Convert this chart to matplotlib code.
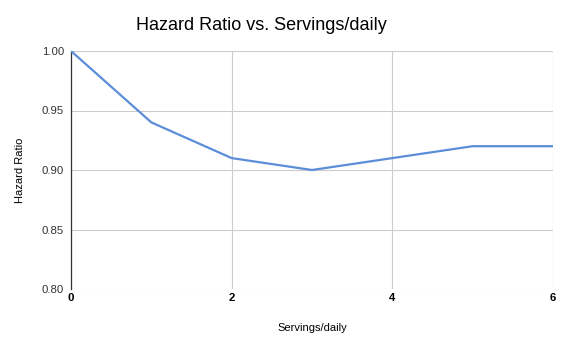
import matplotlib
matplotlib.use("Agg")
import matplotlib.pyplot as plt

servings = [0, 1, 2, 3, 4, 5, 6]
hazard_ratio = [1.00, 0.94, 0.91, 0.90, 0.91, 0.92, 0.92]
x_ticks = [0, 2, 4, 6]
y_ticks = [0.80, 0.85, 0.90, 0.95, 1.00]

plt.rcParams['font.family'] = ['Liberation Sans', 'DejaVu Sans']

fig = plt.figure(figsize=(5.70, 3.52), dpi=100)
ax = fig.add_axes([71/570, 1-289/352, (553-71)/570, (289-51)/352])

ax.plot(servings, hazard_ratio, color='#5b8dd9', linewidth=1.6, zorder=3)

ax.set_xlim(0, 6)
ax.set_ylim(0.80, 1.00)
ax.set_xticks(x_ticks)
ax.set_xticklabels([str(t) for t in x_ticks], fontweight='bold', fontsize=8.2)
ax.set_yticks(y_ticks)
ax.set_yticklabels([f"{t:.2f}" for t in y_ticks], fontsize=8.2, color='#333333')
ax.tick_params(axis='both', length=0, pad=5)
ax.tick_params(axis='x', pad=3)

ax.grid(True, color='#cccccc', linewidth=0.8)
ax.set_axisbelow(True)
for s in ['top', 'right', 'bottom']:
    ax.spines[s].set_visible(False)
ax.spines['left'].set_color('#333333')
ax.spines['left'].set_linewidth(0.9)

ax.set_xlabel('Servings/daily', fontsize=8, labelpad=14)
ax.set_ylabel('Hazard Ratio', fontsize=8, labelpad=12)

fig.text(0.458, 1-25/352, 'Hazard Ratio vs. Servings/daily', fontsize=13, ha='center', va='center')

fig.savefig('out.png', dpi=100, facecolor='white')
